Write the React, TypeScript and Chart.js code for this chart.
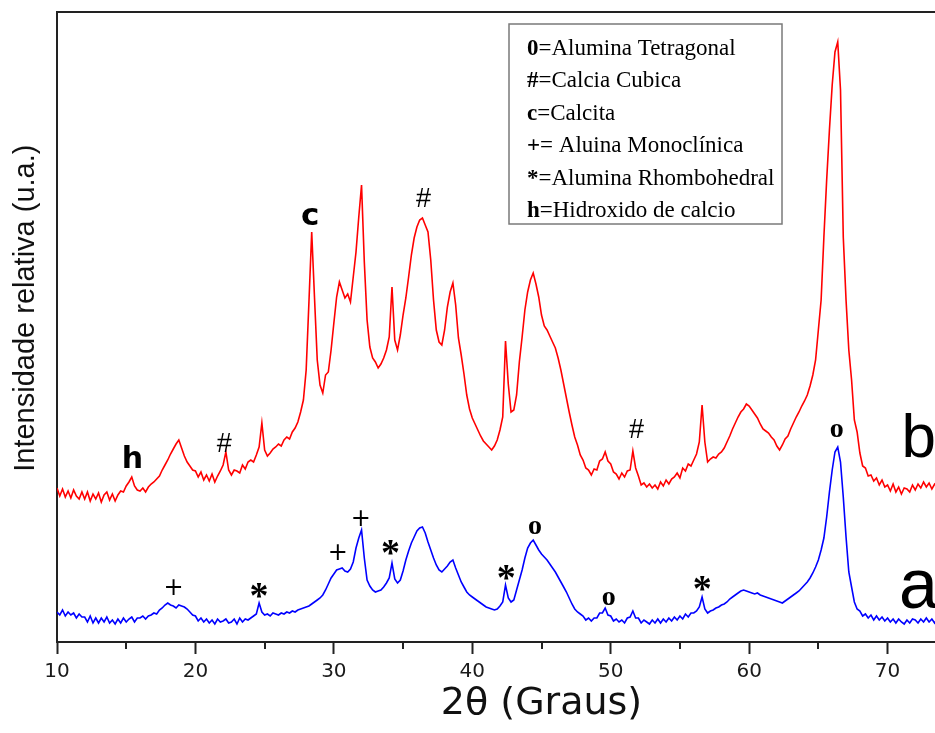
import React, { useEffect, useRef } from 'react';
import { Chart, registerables } from 'chart.js';

Chart.register(...registerables);

// 2θ sampling grid of the recorded patterns
const thetaStart = 10;
const thetaStep = 0.2;

// pattern b (red), relative intensity, one value per 0.2° from 10.0° to 73.8°
const patternB = [
  154, 146, 153, 145, 151, 144, 152, 146, 143, 150,
  143, 150, 141, 148, 143, 149, 140, 147, 150, 142,
  148, 141, 147, 151, 150, 156, 160, 165, 156, 152,
  151, 154, 150, 155, 158, 160, 163, 166, 172, 177,
  182, 188, 193, 198, 202, 194, 186, 180, 176, 172,
  171, 165, 170, 162, 167, 161, 168, 160, 166, 171,
  177, 190, 172, 167, 172, 171, 169, 177, 173, 180,
  182, 180, 187, 195, 219, 192, 186, 189, 193, 195,
  198, 196, 202, 205, 203, 210, 214, 220, 230, 242,
  272, 340, 410, 345, 282, 257, 249, 267, 270, 292,
  319, 345, 360, 352, 344, 348, 340, 365, 390, 425,
  457, 380, 322, 295, 284, 280, 274, 278, 284, 292,
  305, 355, 302, 292, 307, 327, 344, 365, 387, 404,
  415, 422, 424, 417, 410, 382, 342, 312, 300, 297,
  312, 335, 350, 359, 337, 304, 287, 268, 247, 233,
  224, 218, 212, 206, 201, 198, 195, 192, 196, 202,
  212, 225, 301, 258, 230, 232, 247, 280, 305, 332,
  350, 362, 369, 358, 345, 327, 316, 312, 306, 300,
  294, 284, 272, 258, 244, 230, 217, 205, 197, 187,
  182, 174, 172, 167, 173, 172, 181, 183, 190, 181,
  178, 170, 168, 163, 169, 165, 171, 172, 191, 174,
  166, 157, 159, 155, 158, 154, 157, 153, 160, 156,
  162, 158, 163, 165, 169, 164, 174, 171, 178, 176,
  182, 188, 200, 237, 200, 180, 183, 185, 184, 188,
  190, 194, 200, 206, 213, 219, 225, 230, 233, 238,
  236, 232, 228, 224, 218, 213, 211, 209, 205, 202,
  196, 192, 197, 203, 206, 213, 219, 225, 230, 236,
  241, 247, 256, 267, 282, 312, 342, 405, 462, 512,
  557, 590, 600, 552, 405, 342, 292, 262, 222, 210,
  189, 176, 174, 166, 167, 161, 164, 157, 162, 155,
  157, 151, 158, 150, 155, 148, 154, 153, 150, 157,
  152, 158, 154, 160, 155, 159, 153, 158, 155, 159,
];

// pattern a (blue), same grid
const patternA = [
  30, 27, 32, 26, 30, 27, 29, 24, 28, 25,
  25, 20, 26, 19, 24, 19, 24, 20, 25, 19,
  22, 18, 23, 19, 24, 20, 23, 25, 20, 24,
  24, 26, 23, 26, 27, 29, 28, 32, 34, 37,
  39, 37, 36, 34, 37, 36, 35, 33, 30, 27,
  26, 21, 24, 20, 23, 19, 22, 18, 23, 20,
  21, 23, 19, 20, 23, 18, 24, 20, 23, 22,
  24, 26, 28, 39, 30, 27, 28, 26, 29, 28,
  27, 29, 28, 30, 29, 31, 30, 32, 33, 34,
  35, 36, 38, 40, 42, 44, 47, 52, 58, 64,
  68, 72, 73, 74, 71, 70, 73, 80, 94, 104,
  112, 84, 62, 56, 52, 50, 51, 52, 55, 59,
  64, 79, 63, 59, 62, 71, 82, 91, 99, 105,
  111, 114, 115, 109, 100, 92, 84, 77, 72, 70,
  73, 76, 80, 82, 74, 67, 60, 55, 50, 47,
  45, 43, 41, 39, 37, 35, 34, 33, 32, 33,
  36, 40, 57, 44, 40, 42, 52, 62, 72, 84,
  94, 99, 102, 97, 92, 88, 85, 82, 78, 74,
  70, 65, 60, 55, 50, 44, 38, 33, 30, 28,
  26, 22, 24, 21, 24, 24, 29, 29, 34, 27,
  26, 21, 23, 20, 22, 19, 24, 25, 31, 24,
  24, 19, 22, 20, 18, 22, 19, 23, 19, 23,
  20, 24, 21, 25, 22, 26, 23, 28, 25, 29,
  29, 31, 35, 45, 33, 29, 31, 32, 34, 35,
  37, 38, 40, 43, 45, 47, 49, 51, 52, 51,
  50, 49, 48, 49, 47, 46, 45, 44, 43, 42,
  41, 40, 39, 41, 43, 45, 47, 49, 51, 54,
  57, 60, 64, 69, 75, 82, 92, 104, 125, 150,
  172, 190, 195, 180, 145, 105, 70, 55, 40, 33,
  31, 26, 28, 24, 27, 22, 26, 22, 25, 21,
  24, 20, 23, 19, 23, 20, 18, 22, 19, 23,
  22, 19, 23, 20, 24, 20, 23, 19, 23, 20,
];

// axis
const xMin = 10;
const xMax = 80;
const xMajorStep = 10;
const xMinorTicks = [15, 25, 35, 45, 55, 65, 75];
const yMin = 0;
const yMax = 630;
const xAxisTitle = '2\u03B8 (Graus)';
const yAxisTitle = 'Intensidade relativa (u.a.)';

// phase marks above the peaks
const markSymbols = ['h', '#', 'c', '#', '#', 'o', '+', '*', '+', '+', '*', '*', 'o', 'o', '*'];
const markTheta = [15.47, 22.09, 28.27, 36.47, 51.87, 66.33, 18.42, 24.6, 30.29, 31.94, 34.1, 42.45, 44.53, 49.86, 56.62];
const markLevel = [186, 200, 426, 445, 214, 212, 55, 52, 90, 124, 95, 70, 115, 44, 59];

// curve names
const curveNames = ['b', 'a'];
const curveNameTheta = [72.3, 72.3];
const curveNameLevel = [207, 53];

// legend box
const legendSymbols = ['0', '#', 'c', '+', '*', 'h'];
const legendNames = [
  '=Alumina Tetragonal',
  '=Calcia Cubica',
  '=Calcita',
  '= Aluina Monocl\u00EDnica',
  '=Alumina Rhombohedral',
  '=Hidroxido de calcio',
];

const markFonts: Record<string, string> = {
  h: 'bold 30px "DejaVu Sans"',
  c: 'bold 31px "DejaVu Sans"',
  '#': '27px "Liberation Sans"',
  o: 'bold 28px "Liberation Serif"',
  '+': '24px "DejaVu Sans"',
  '*': 'bold 38px "Liberation Serif"',
  b: '62px "Liberation Sans"',
  a: '70px "Liberation Sans"',
};

function drawCentered(ctx: CanvasRenderingContext2D, text: string, cx: number, cy: number) {
  ctx.textAlign = 'left';
  ctx.textBaseline = 'alphabetic';
  const m = ctx.measureText(text);
  const x = cx - (m.actualBoundingBoxRight - m.actualBoundingBoxLeft) / 2;
  const y = cy + (m.actualBoundingBoxAscent - m.actualBoundingBoxDescent) / 2;
  ctx.fillText(text, x, y);
}

const overlayPlugin = {
  id: 'xrdOverlay',
  afterDraw(chart: any) {
    const { ctx, chartArea, scales } = chart;
    const xs = scales.x;
    const ys = scales.y;
    ctx.save();

    // top frame line
    ctx.strokeStyle = '#222';
    ctx.lineWidth = 2;
    ctx.beginPath();
    ctx.moveTo(chartArea.left - 1, chartArea.top);
    ctx.lineTo(chartArea.right, chartArea.top);
    ctx.stroke();

    // minor ticks
    for (const v of xMinorTicks) {
      const px = Math.round(xs.getPixelForValue(v));
      ctx.beginPath();
      ctx.moveTo(px, chartArea.bottom);
      ctx.lineTo(px, chartArea.bottom + 7);
      ctx.stroke();
    }

    // peak marks
    ctx.fillStyle = '#000';
    markSymbols.forEach((s, i) => {
      ctx.font = markFonts[s];
      drawCentered(ctx, s, xs.getPixelForValue(markTheta[i]), ys.getPixelForValue(markLevel[i]));
    });
    curveNames.forEach((s, i) => {
      ctx.font = markFonts[s];
      drawCentered(ctx, s, xs.getPixelForValue(curveNameTheta[i]), ys.getPixelForValue(curveNameLevel[i]));
    });

    // legend box
    const bx = chartArea.left + 452;
    const by = chartArea.top + 12;
    ctx.strokeStyle = '#7a7a7a';
    ctx.lineWidth = 1.5;
    ctx.fillStyle = '#fff';
    ctx.fillRect(bx, by, 273, 200);
    ctx.strokeRect(bx, by, 273, 200);
    ctx.fillStyle = '#000';
    ctx.textAlign = 'left';
    ctx.textBaseline = 'alphabetic';
    legendSymbols.forEach((s, i) => {
      const ty = by + 31 + i * 32.4;
      ctx.font = 'bold 23px "Liberation Serif"';
      ctx.fillText(s, bx + 18, ty);
      const w = ctx.measureText(s).width;
      ctx.font = '23px "Liberation Serif"';
      ctx.fillText(legendNames[i], bx + 18 + w, ty);
    });

    // y axis title
    ctx.save();
    ctx.translate(26, chartArea.top + 296);
    ctx.rotate(-Math.PI / 2);
    ctx.font = '29px "Liberation Sans"';
    ctx.fillStyle = '#111';
    drawCentered(ctx, yAxisTitle, 0, 0);
    ctx.restore();

    ctx.restore();
  },
};

export default function App() {
  const ref = useRef<HTMLCanvasElement>(null);
  useEffect(() => {
    const canvas = ref.current;
    if (!canvas) return;
    const toPoints = (vals: number[]) =>
      vals.map((y, i) => ({ x: Math.round((thetaStart + i * thetaStep) * 10) / 10, y }));
    const chart = new Chart(canvas, {
      type: 'line',
      data: {
        datasets: [
          {
            label: 'b',
            data: toPoints(patternB),
            borderColor: '#ff0000',
            borderWidth: 1.6,
            pointRadius: 0,
            tension: 0,
            fill: false,
          },
          {
            label: 'a',
            data: toPoints(patternA),
            borderColor: '#0000ff',
            borderWidth: 1.6,
            pointRadius: 0,
            tension: 0,
            fill: false,
          },
        ],
      },
      options: {
        animation: false,
        responsive: false,
        devicePixelRatio: 1,
        layout: { padding: { top: 12, right: 2, left: 0, bottom: 0 } },
        plugins: {
          legend: { display: false },
          tooltip: { enabled: false },
        },
        scales: {
          x: {
            type: 'linear',
            min: xMin,
            max: xMax,
            afterFit: (scale: any) => {
              scale.height = 91;
            },
            border: { display: true, color: '#222', width: 2 },
            grid: {
              drawOnChartArea: false,
              drawTicks: true,
              tickLength: 12,
              tickWidth: 2,
              tickColor: '#222',
            },
            ticks: {
              stepSize: xMajorStep,
              padding: 6,
              maxRotation: 0,
              autoSkip: false,
              color: '#1a1a1a',
              font: { family: 'DejaVu Sans', size: 20 },
              callback: (v: any) => (Number(v) >= xMax ? '' : String(v)),
            },
            title: {
              display: true,
              text: xAxisTitle,
              color: '#111',
              font: { family: 'DejaVu Sans', size: 38 },
              padding: { top: 0, bottom: 6 },
            },
          },
          y: {
            type: 'linear',
            min: yMin,
            max: yMax,
            afterFit: (scale: any) => {
              scale.width = 57;
            },
            border: { display: true, color: '#222', width: 2 },
            grid: { display: false, drawTicks: false },
            ticks: { display: false },
          },
        },
      },
      plugins: [overlayPlugin],
    });
    return () => chart.destroy();
  }, []);

  return (
    <div
      style={{
        position: 'fixed',
        left: 0,
        top: 0,
        width: 935,
        height: 733,
        overflow: 'hidden',
        background: '#fff',
      }}
    >
      <canvas ref={ref} width={1032} height={733} style={{ display: 'block', width: 1032, height: 733 }} />
    </div>
  );
}
